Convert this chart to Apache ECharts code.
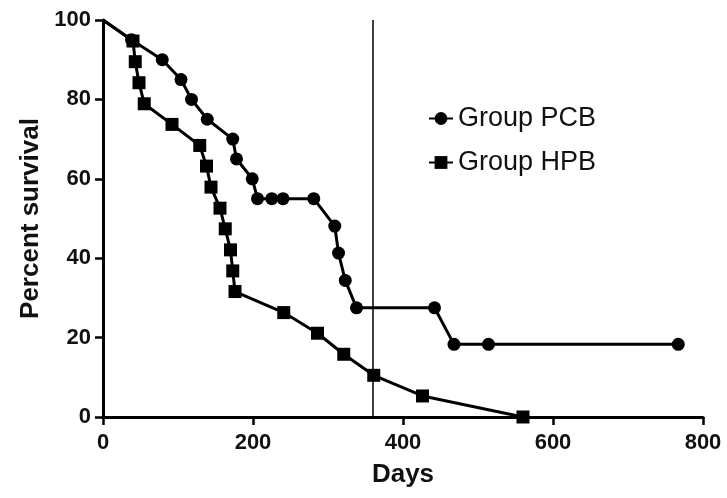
<!DOCTYPE html>
<html>
<head>
<meta charset="utf-8">
<script src="https://cdn.jsdelivr.net/npm/echarts@6/dist/echarts.min.js"></script>
<style>
html,body{margin:0;padding:0;background:#fff;}
#chart{width:727px;height:498px;}
</style>
</head>
<body>
<div id="chart"></div>
<script>
// Data
const seriesNames = ['Group PCB', 'Group HPB'];
const pcbDays = [0, 38, 79, 104, 118, 139, 173, 178, 199, 206, 225, 240, 281, 309, 314, 323, 338, 442, 468, 514, 767];
const pcbSurv = [100, 95, 90, 85, 80, 75, 70, 65, 60, 55, 55, 55, 55, 48.1, 41.3, 34.4, 27.5, 27.5, 18.3, 18.3, 18.3];
const hpbDays = [0, 40, 43, 48, 55, 92, 129, 138, 144, 156, 163, 170, 173, 176, 241, 286, 321, 361, 426, 560];
const hpbSurv = [100, 94.7, 89.5, 84.2, 78.9, 73.7, 68.4, 63.2, 57.9, 52.6, 47.4, 42.1, 36.8, 31.6, 26.3, 21.1, 15.8, 10.5, 5.3, 0];
const refLineDay = 360;
const xTicks = [0, 200, 400, 600, 800];
const yTicks = [0, 20, 40, 60, 80, 100];

function toPoints(xs, ys) {
  return xs.map((x, i) => {
    const item = { value: [x, ys[i]] };
    if (i === 0) item.symbolSize = 0;
    return item;
  });
}

const chart = echarts.init(document.getElementById('chart'));
const font = 'Arial, "Liberation Sans", sans-serif';
const axisCommon = {
  axisLine: { show: true, lineStyle: { color: '#000', width: 3 } },
  axisTick: { show: true, length: 8, lineStyle: { color: '#000', width: 2.5 } },
  splitLine: { show: false },
  axisLabel: { color: '#111', fontSize: 22, fontWeight: 'bold', fontFamily: font },
  nameTextStyle: { color: '#111', fontSize: 26, fontWeight: 'bold', fontFamily: font }
};
chart.setOption({
  backgroundColor: '#fff',
  animation: false,
  grid: { left: 103, top: 20, right: 24, bottom: 81 },
  legend: {
    orient: 'vertical',
    left: 423,
    top: 100,
    itemWidth: 24,
    itemHeight: 16,
    itemGap: 17,
    data: seriesNames,
    textStyle: { color: '#111', fontSize: 27, fontFamily: font }
  },
  xAxis: Object.assign({}, axisCommon, {
    type: 'value',
    min: xTicks[0], max: xTicks[xTicks.length - 1], interval: 200,
    name: 'Days', nameLocation: 'middle', nameGap: 45,
    axisLabel: Object.assign({}, axisCommon.axisLabel, { margin: 15 })
  }),
  yAxis: Object.assign({}, axisCommon, {
    type: 'value',
    min: yTicks[0], max: yTicks[yTicks.length - 1], interval: 20,
    name: 'Percent survival', nameLocation: 'middle', nameGap: 59,
    axisLabel: Object.assign({}, axisCommon.axisLabel, { margin: 12 })
  }),
  series: [
    {
      name: seriesNames[0], type: 'line',
      data: toPoints(pcbDays, pcbSurv),
      symbol: 'circle', symbolSize: 13,
      itemStyle: { color: '#000' },
      lineStyle: { color: '#000', width: 3 },
      z: 3,
      markLine: {
        silent: true, symbol: 'none',
        label: { show: false },
        lineStyle: { color: '#000', width: 1.5, type: 'solid' },
        data: [{ xAxis: refLineDay }]
      }
    },
    {
      name: seriesNames[1], type: 'line',
      data: toPoints(hpbDays, hpbSurv),
      symbol: 'rect', symbolSize: 13,
      itemStyle: { color: '#000' },
      lineStyle: { color: '#000', width: 3 },
      z: 4
    }
  ]
});
</script>
</body>
</html>
